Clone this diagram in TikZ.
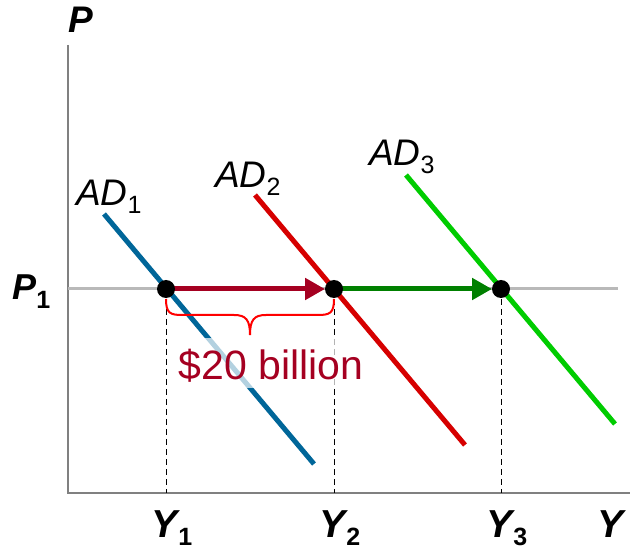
\documentclass[tikz,border=0pt]{standalone}
\usepackage{fontspec}
\setmainfont{Liberation Sans}
\usetikzlibrary{arrows.meta}
\definecolor{axisgray}{RGB}{128,128,128}
\definecolor{linegray}{RGB}{185,185,185}
\definecolor{adblue}{RGB}{0,102,153}
\definecolor{adred}{RGB}{214,0,0}
\definecolor{adgreen}{RGB}{0,204,0}
\definecolor{arrred}{RGB}{165,0,33}
\definecolor{arrgreen}{RGB}{0,128,0}
\definecolor{bracered}{RGB}{255,0,0}
\newcommand{\blab}[2]{\fontsize{39}{42}\selectfont\textbf{\textit{#1}}\rlap{\kern-2pt\raisebox{-8pt}{\fontsize{25}{25}\selectfont\textbf{#2}}}}
\newcommand{\adlab}[1]{\fontsize{37}{40}\selectfont\textit{AD}\raisebox{-8pt}{\fontsize{25}{25}\selectfont #1}}
\begin{document}
\begin{tikzpicture}[x=1pt,y=-1pt,
  axisline/.style={draw=axisgray,line width=2pt},
  pline/.style={draw=linegray,line width=3pt},
  guide/.style={draw=black,line width=0.8pt,dash pattern=on 6pt off 4pt},
  curve/.style={line width=5pt},
  shiftarrow/.style={line width=5pt,-{Triangle[length=20pt,width=21pt]},shorten >=9pt},
  dot/.style={circle,fill=black,minimum size=18pt,inner sep=0pt},
  lab/.style={inner sep=0pt,anchor=base}]
\useasboundingbox (0,0) rectangle (643,553);
% axes
\coordinate (O) at (68,493);
\coordinate (Ptop) at (68,45);
\coordinate (Yend) at (630,493);
\draw[axisline] (Ptop) -- (O) -- (Yend);
% price line
\coordinate (Pl) at (68,289);
\coordinate (Pr) at (618,289);
\draw[pline] (Pl) -- (Pr);
% equilibrium points
\coordinate (E1) at (166,289);
\coordinate (E2) at (334,289);
\coordinate (E3) at (501,289);
\coordinate (B1) at (166,493);
\coordinate (B2) at (334,493);
\coordinate (B3) at (501,493);
\draw[guide] (E1) -- (B1);
\draw[guide] (E2) -- (B2);
\draw[guide] (E3) -- (B3);
% AD curves
\coordinate (A1t) at (104,214); \coordinate (A1b) at (314,464);
\coordinate (A2t) at (255,195); \coordinate (A2b) at (465,445);
\coordinate (A3t) at (406,175); \coordinate (A3b) at (615,424);
\draw[curve,adblue] (A1t) -- (A1b);
\draw[curve,adred] (A2t) -- (A2b);
\draw[curve,adgreen] (A3t) -- (A3b);
% label with translucent backing
\node[lab,fill=white,fill opacity=0.7,text opacity=1,text=arrred,inner xsep=4pt,inner ysep=0pt,text height=42pt,text depth=8pt]
  (amt) at (271,380) {\fontsize{41}{44}\selectfont \$20 billion};
% brace
\draw[bracered,line width=2pt] (166,299) .. controls (166,313) and (170,315) .. (182,315) -- (234,315)
  .. controls (246,315) and (250,320) .. (250,335)
  .. controls (250,320) and (254,315) .. (266,315) -- (318,315)
  .. controls (330,315) and (334,313) .. (334,299);
% shift arrows
\draw[shiftarrow,arrred] (E1) -- (E2);
\draw[shiftarrow,arrgreen] (E2) -- (E3);
\node[dot] (d1) at (E1) {};
\node[dot] (d2) at (E2) {};
\node[dot] (d3) at (E3) {};
% labels
\node[lab] (lP) at (81,33) {\fontsize{37}{40}\selectfont\textbf{\textit{P}}};
\node[lab,anchor=base west] (lP1) at (12,300) {\fontsize{36}{40}\selectfont\textbf{\textit{P}}\raisebox{-9pt}{\fontsize{25}{25}\selectfont\textbf{1}}};
\node[lab] (lY1) at (166,537) {\blab{Y}{1}};
\node[lab] (lY2) at (334,537) {\blab{Y}{2}};
\node[lab] (lY3) at (501,537) {\blab{Y}{3}};
\node[lab] (lY) at (612,537) {\fontsize{39}{42}\selectfont\textbf{\textit{Y}}};
\node[lab,anchor=base west] (lA1) at (76,206) {\adlab{1}};
\node[lab,anchor=base west] (lA2) at (215,188) {\adlab{2}};
\node[lab,anchor=base west] (lA3) at (369,166) {\adlab{3}};
\end{tikzpicture}
\end{document}
